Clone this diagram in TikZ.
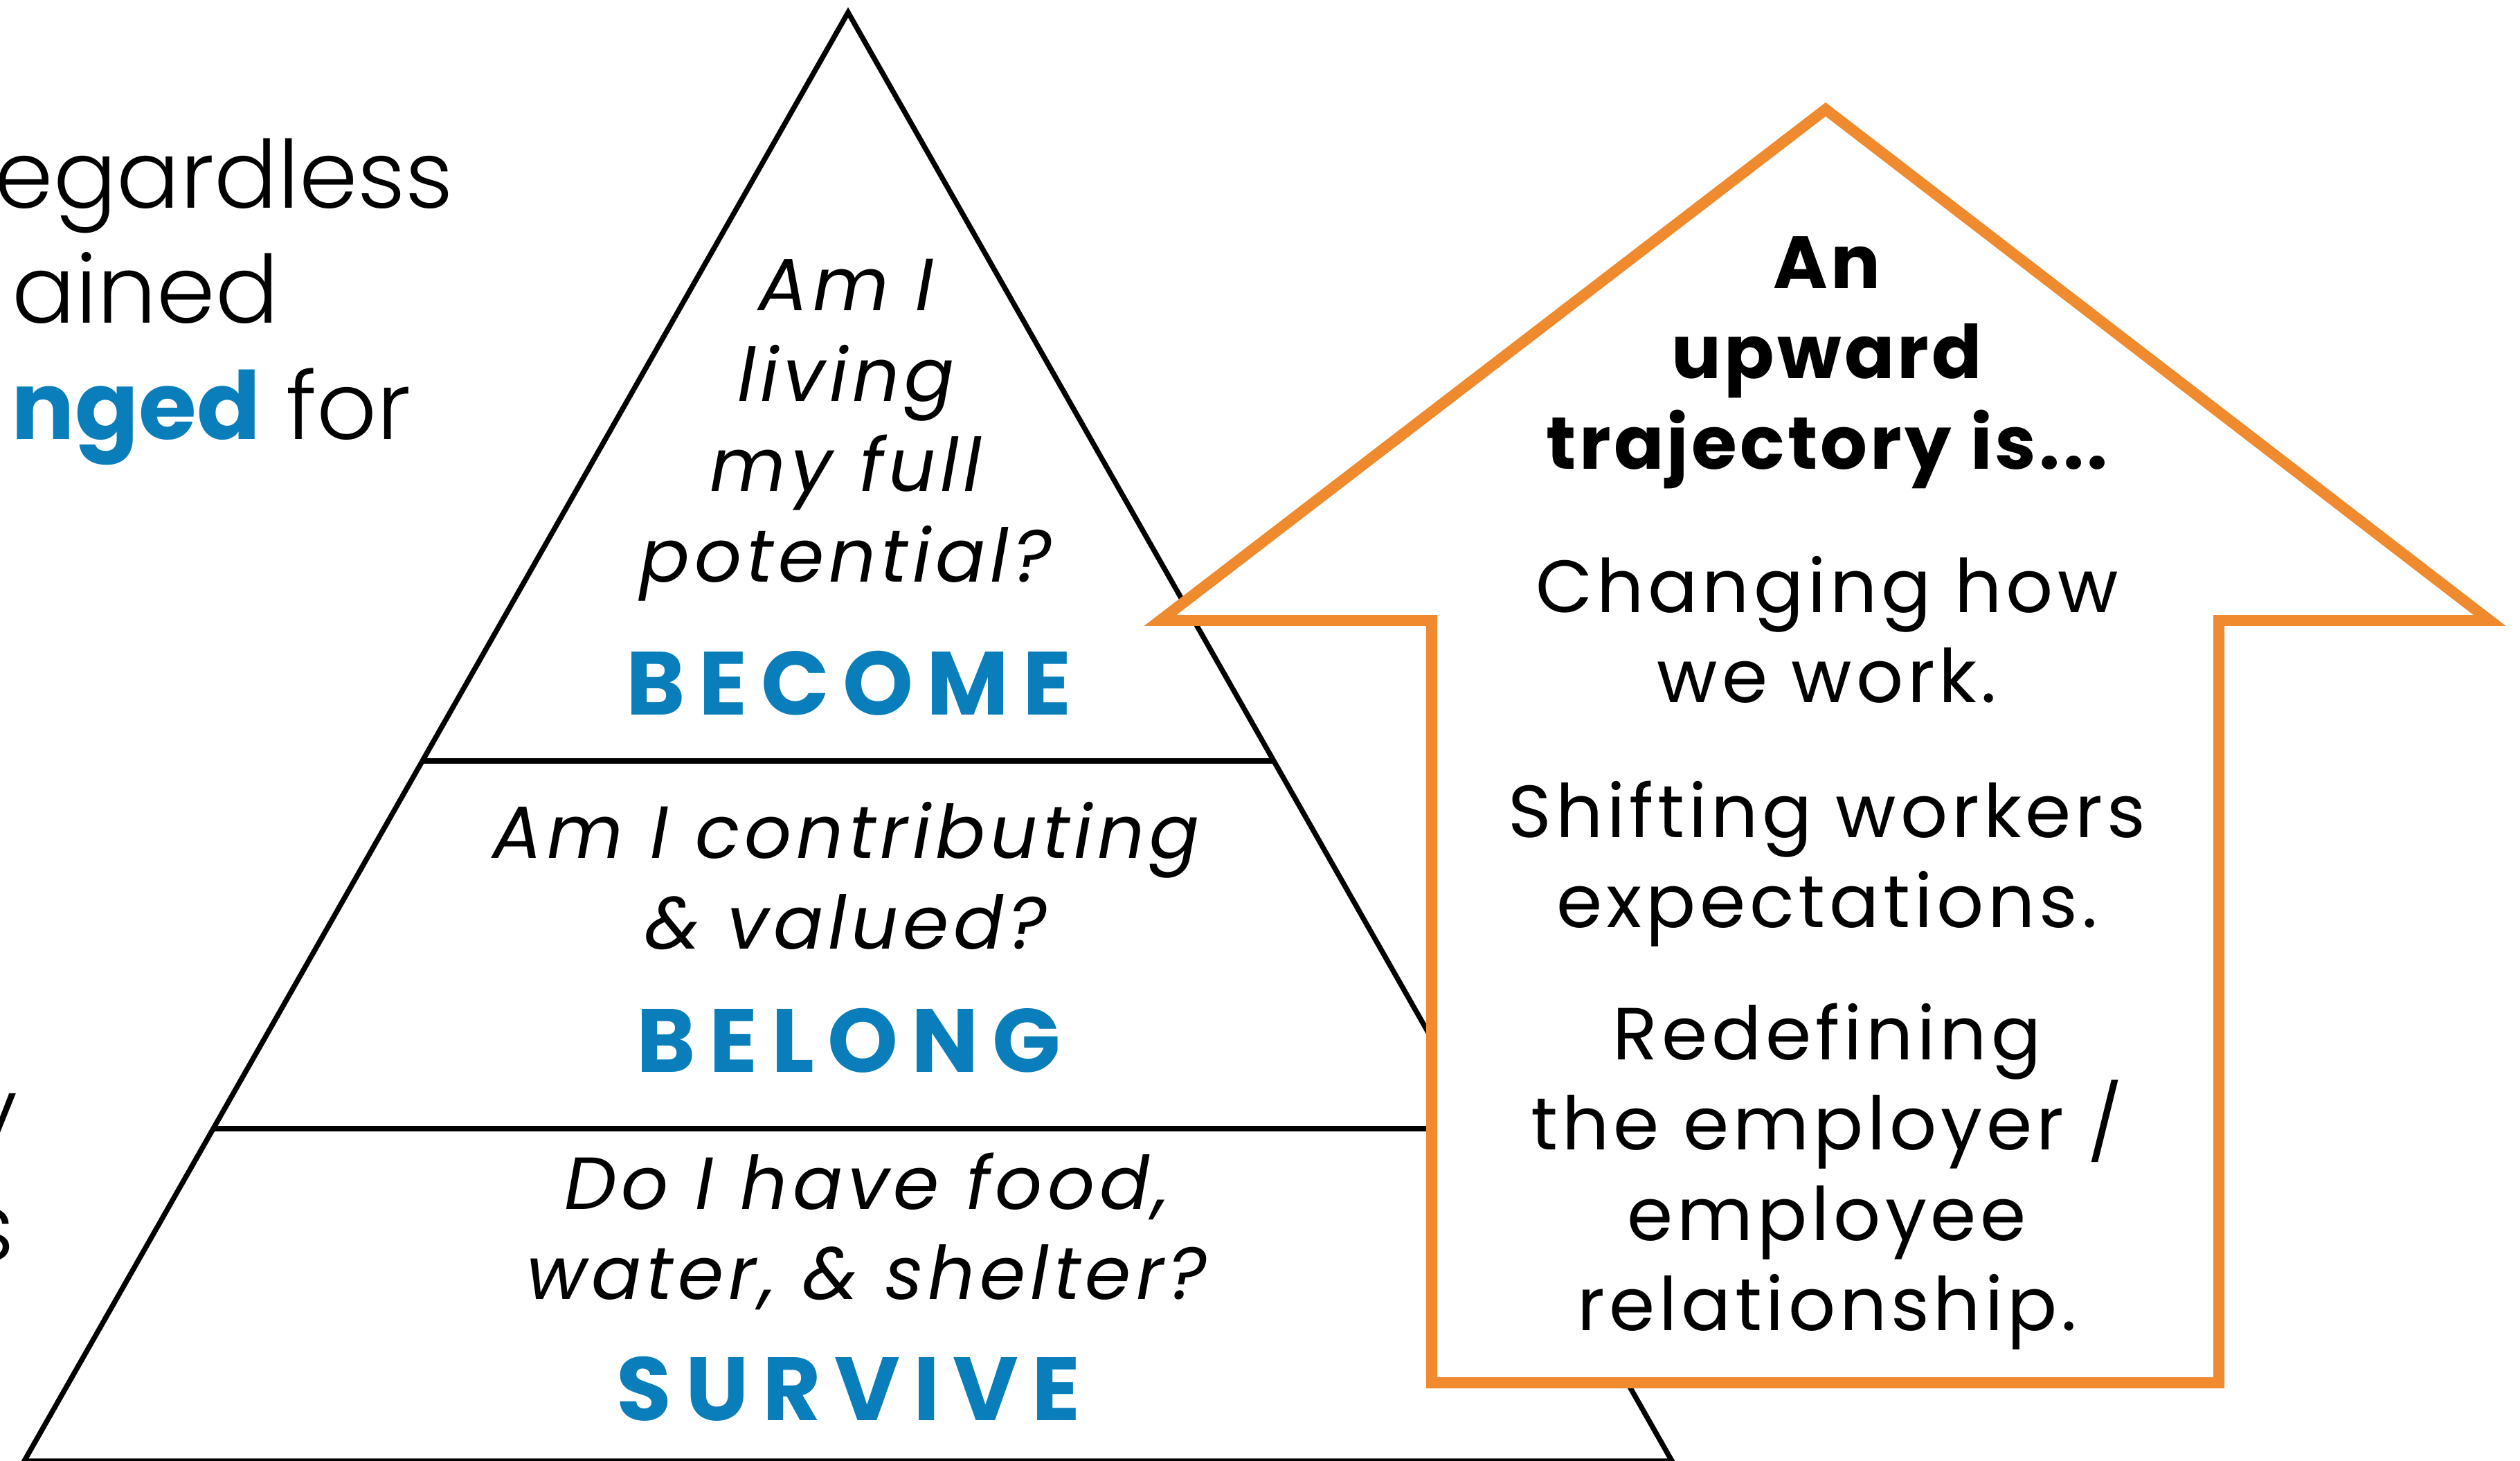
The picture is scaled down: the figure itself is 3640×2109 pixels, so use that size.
\documentclass[tikz,border=0pt]{standalone}
\usepackage{fontspec}
\setmainfont{Poppins}
\newfontfamily\sidefont{Poppins Light}
\newfontfamily\qfont{Poppins}[LetterSpace=6.5]
\newfontfamily\lvlfont{Poppins}[LetterSpace=15]
\newfontfamily\headfont{Poppins}[LetterSpace=4]
\newfontfamily\bodyfont{Poppins}[LetterSpace=5.5]
\usetikzlibrary{calc}
\definecolor{arroworange}{HTML}{F08A2F}
\definecolor{levelblue}{HTML}{0A7EBA}
\tikzset{
  txt/.style={inner sep=0pt, outer sep=0pt, anchor=base},
  qtext/.style={txt, font=\qfont\itshape\fontsize{30.34pt}{36.9pt}\selectfont},
  lvl/.style={txt, text=levelblue, font=\lvlfont\bfseries\fontsize{36.87pt}{44pt}\selectfont},
  head/.style={txt, font=\headfont\bfseries\fontsize{30.34pt}{36.9pt}\selectfont},
  body/.style={txt, font=\bodyfont\fontsize{30.34pt}{36.9pt}\selectfont},
  side/.style={inner sep=0pt, outer sep=0pt, font=\sidefont\fontsize{38.6pt}{46pt}\selectfont},
  pyr/.style={line width=2.13pt, line join=miter},
  uparrow/.style={draw=arroworange, line width=4.54pt, fill=white, line join=miter}
}
\begin{document}
\begin{tikzpicture}[x=0.01cm, y=-0.01cm]
\useasboundingbox (0,0) rectangle (3640,2109);
\clip (0,0) rectangle (3640,2109);
\fill[white] (0,0) rectangle (3640,2109);

% side text, running off the left edge
\node[side, anchor=base east] (s1) at (655,300) {egardless};
\node[side, anchor=base west] (s2) at (18,466) {ained};
\node[side, anchor=base west] (s3) at (17,634) {\textcolor{levelblue}{\fontspec{Poppins}\bfseries nged} for};
\node[side, anchor=base east] (s4) at (25,1653) {y};
\node[side, anchor=base east] (s5) at (21,1820) {s};

% pyramid with its three levels
\coordinate (apex) at (1225,18);
\coordinate (bl) at (35,2110);
\coordinate (br) at (2415,2110);
\draw[pyr] (apex) -- (br) -- (bl) -- cycle;
\draw[pyr] ($(apex)!0.5167!(bl)$) -- ($(apex)!0.5167!(br)$);
\draw[pyr] ($(apex)!0.7706!(bl)$) -- ($(apex)!0.7706!(br)$);

\node[qtext] (b1) at (1222,448) {Am I};
\node[qtext] (b2) at (1222,579) {living};
\node[qtext] (b3) at (1222,709) {my full};
\node[qtext] (b4) at (1222,840) {potential?};
\node[lvl] (become) at (1226,1032) {BECOME};

\node[qtext] (g1) at (1222,1239) {Am I contributing};
\node[qtext] (g2) at (1222,1370) {\& valued?};
\node[lvl] (belong) at (1226,1548) {BELONG};

\node[qtext] (v1) at (1252,1746) {Do I have food,};
\node[qtext] (v2) at (1252,1876) {water, \& shelter?};
\node[lvl] (survive) at (1226,2051) {SURVIVE};

% upward arrow drawn over the pyramid
\draw[uparrow] (2068,1997) -- (2068,896) -- (1676,896) -- (2637,158)
  -- (3596,896) -- (3205,896) -- (3205,1997) -- cycle;

\node[head] (h1) at (2639,416) {An};
\node[head] (h2) at (2639,546) {upward};
\node[head] (h3) at (2639,677) {trajectory is...};

\node[body] (t1) at (2639,884) {Changing how};
\node[body] (t2) at (2639,1014) {we work.};
\node[body] (t3) at (2639,1209) {Shifting workers};
\node[body] (t4) at (2639,1339) {expectations.};
\node[body] (t5) at (2639,1530) {Redefining};
\node[body] (t6) at (2639,1660) {the employer /};
\node[body] (t7) at (2639,1791) {employee};
\node[body] (t8) at (2639,1921) {relationship.};
\end{tikzpicture}
\end{document}
